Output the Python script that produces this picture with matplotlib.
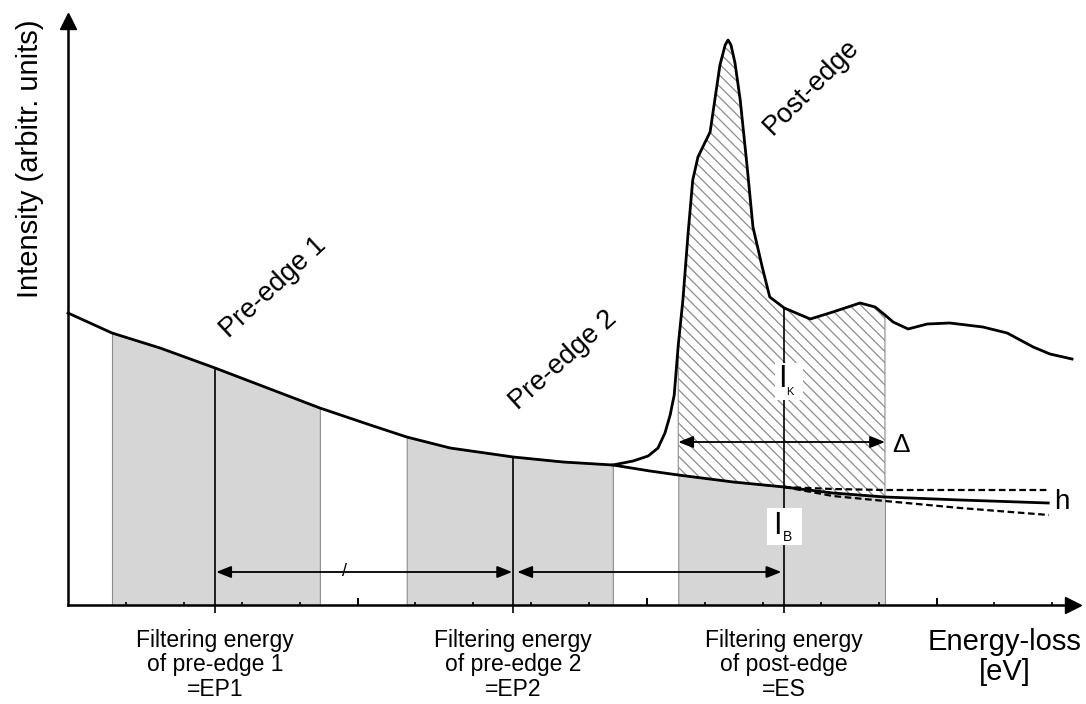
import numpy as np
import matplotlib.pyplot as plt
from matplotlib.patches import Rectangle

plt.rcParams['font.family'] = ['Liberation Sans', 'DejaVu Sans']
plt.rcParams['hatch.linewidth'] = 0.9
plt.rcParams['hatch.color'] = '#505050'

# measured spectrum (energy-loss in tick units, intensity arbitrary)
spec_e = np.array([0.00, 0.76, 1.59, 2.54, 3.40, 4.35, 5.22, 5.85, 6.60, 7.69,
                   8.55, 9.41, 9.76, 10.02, 10.19, 10.31, 10.40, 10.47, 10.54, 10.62,
                   10.71, 10.79, 10.88, 10.98, 11.09, 11.26, 11.35, 11.40, 11.45, 11.52,
                   11.61, 11.73, 11.83, 11.99, 12.12, 12.37, 12.82, 13.21, 13.68, 13.94,
                   14.11, 14.25, 14.51, 14.84, 15.23, 15.80, 16.22, 16.67, 16.96, 17.34])
spec_i = np.array([29.2, 27.2, 25.7, 23.7, 21.8, 19.7, 18.0, 16.8, 15.7, 14.8,
                   14.3, 14.0, 14.4, 14.9, 15.7, 17.2, 19.0, 21.0, 26.0, 30.5,
                   37.2, 42.5, 44.8, 46.0, 47.3, 54.0, 56.0, 56.5, 56.0, 54.2,
                   50.5, 43.8, 37.8, 33.8, 30.8, 29.7, 28.6, 29.3, 30.2, 29.8,
                   29.0, 28.3, 27.6, 28.1, 28.2, 27.8, 27.2, 25.8, 25.1, 24.6])

# extrapolated background under the edge
bg_e = np.array([9.41, 10.05, 10.54, 11.49, 12.37, 13.21, 14.11, 15.41, 16.93])
bg_i = np.array([14.0, 13.4, 13.0, 12.3, 11.8, 11.2, 10.8, 10.5, 10.2])

# uncertainty band of the extrapolation (h)
band_e = np.array([12.37, 13.21, 14.11, 15.41, 16.94])
band_hi = np.array([11.8, 11.6, 11.5, 11.5, 11.5])
band_lo = np.array([11.8, 10.9, 10.4, 9.7, 9.0])

# energy windows: pre-edge 1, pre-edge 2, post-edge
win_lo = [0.76, 5.85, 10.54]
win_hi = [4.35, 9.41, 14.11]
win_mid = [2.54, 7.69, 12.37]

tick_major = [5, 10, 15]
tick_minor = [t for t in range(1, 18) if t % 5 != 0]

fig = plt.figure(figsize=(10.86, 7.04), dpi=100)
ax = fig.add_axes([0, 0, 1, 1])
ax.set_xlim(-68 / 57.9, (1086 - 68) / 57.9)
ax.set_ylim(-9.9, 60.5)

gray = '#d6d6d6'
edge = '#8c8c8c'

# shaded windows
for k in range(2):
    m = (spec_e >= win_lo[k] - 1e-6) & (spec_e <= win_hi[k] + 1e-6)
    ax.fill_between(spec_e[m], 0, spec_i[m], facecolor=gray, edgecolor=edge, lw=0.8, zorder=1)
m = (bg_e >= win_lo[2] - 1e-6) & (bg_e <= win_hi[2] + 1e-6)
ax.fill_between(bg_e[m], 0, bg_i[m], facecolor=gray, edgecolor=edge, lw=0.8, zorder=1)

# hatched edge signal between spectrum and background
ms = (spec_e >= win_lo[2] - 1e-6) & (spec_e <= win_hi[2] + 1e-6)
poly_e = np.concatenate([spec_e[ms], bg_e[m][::-1]])
poly_i = np.concatenate([spec_i[ms], bg_i[m][::-1]])
ax.fill(poly_e, poly_i, facecolor='white', edgecolor=edge, hatch='\\\\\\', lw=0.8, zorder=1)

# curves
ax.plot(spec_e, spec_i, color='k', lw=2.0, zorder=4, solid_joinstyle='round')
ax.plot(bg_e, bg_i, color='k', lw=2.0, zorder=4)
ax.plot(band_e, band_hi, color='k', lw=1.6, ls=(0, (3, 1.6)), zorder=4)
ax.plot(band_e, band_lo, color='k', lw=1.6, ls=(0, (3, 1.6)), zorder=4)

# filtering energy lines
tops = [spec_i[np.isclose(spec_e, e)][0] for e in win_mid]
ax.vlines(win_mid, -0.8, tops, color='k', lw=1.2, zorder=3)

# axes
for s in ['top', 'right']:
    ax.spines[s].set_visible(False)
ax.spines['left'].set_position(('data', 0))
ax.spines['bottom'].set_position(('data', 0))
ax.spines['left'].set_bounds(0, 58.5)
ax.spines['bottom'].set_bounds(0, 17.3)
ax.spines['left'].set_linewidth(1.8)
ax.spines['bottom'].set_linewidth(1.8)
ax.spines['left'].set_zorder(5)
ax.spines['bottom'].set_zorder(5)
ax.set_xticks(tick_major)
ax.set_xticks(tick_minor, minor=True)
ax.set_yticks([])
ax.tick_params(axis='x', which='major', direction='in', length=5, width=1.4, labelbottom=False)
ax.tick_params(axis='x', which='minor', direction='in', length=2.5, width=1.2)
ax.plot([17.36], [0], marker='>', ms=11, color='k', clip_on=False, zorder=6)
ax.plot([0], [58.4], marker='^', ms=11, color='k', clip_on=False, zorder=6)

# arrows
ap = dict(arrowstyle='<|-|>,head_length=0.45,head_width=0.18', lw=1.3, color='k',
          shrinkA=0, shrinkB=0, mutation_scale=20)
ax.annotate('', xy=(win_mid[1] - 0.02, 3.3), xytext=(win_mid[0] + 0.02, 3.3), arrowprops=ap, zorder=6)
ax.annotate('', xy=(win_mid[2] - 0.05, 3.3), xytext=(win_mid[1] + 0.07, 3.3), arrowprops=ap, zorder=6)
ax.annotate('', xy=(win_hi[2], 16.3), xytext=(win_lo[2], 16.3), arrowprops=ap, zorder=6)
ax.text(4.78, 3.3, '/', fontsize=13, ha='center', va='center', zorder=7)

# labels
ax.text(-0.66, 44.6, 'Intensity (arbitr. units)', rotation=90, fontsize=21,
        ha='center', va='center')
ax.text(3.54, 31.7, 'Pre-edge 1', rotation=43, fontsize=19.5, ha='center', va='center',
        rotation_mode='anchor')
ax.text(8.55, 24.5, 'Pre-edge 2', rotation=42, fontsize=19.5, ha='center', va='center',
        rotation_mode='anchor')
ax.text(12.83, 51.8, 'Post-edge', rotation=45, fontsize=19.5, ha='center', va='center',
        rotation_mode='anchor')

ax.add_patch(Rectangle((12.21, 20.5), 0.48, 3.7, facecolor='white', edgecolor='none', zorder=5))
ax.text(12.33, 22.6, 'I', fontsize=22, ha='center', va='center', zorder=6)
ax.text(12.47, 21.3, 'K', fontsize=8, ha='center', va='center', zorder=6)
ax.add_patch(Rectangle((12.08, 6.0), 0.6, 3.7, facecolor='white', edgecolor='none', zorder=5))
ax.text(12.26, 7.9, 'I', fontsize=22, ha='center', va='center', zorder=6)
ax.text(12.43, 6.8, 'B', fontsize=10, ha='center', va='center', zorder=6)

ax.text(14.39, 16.0, 'Δ', fontsize=19, ha='center', va='center')
ax.text(17.17, 10.3, 'h', fontsize=20, ha='center', va='center')

bottom = ['Filtering energy\nof pre-edge 1\n=EP1',
          'Filtering energy\nof pre-edge 2\n=EP2',
          'Filtering energy\nof post-edge\n=ES']
for x, s in zip(win_mid, bottom):
    ax.text(x, -6.0, s, fontsize=16.5, ha='center', va='center', linespacing=1.1)
ax.text(16.18, -5.2, 'Energy-loss\n[eV]', fontsize=21, ha='center', va='center',
        linespacing=1.05)

fig.savefig('out.png', dpi=100)
